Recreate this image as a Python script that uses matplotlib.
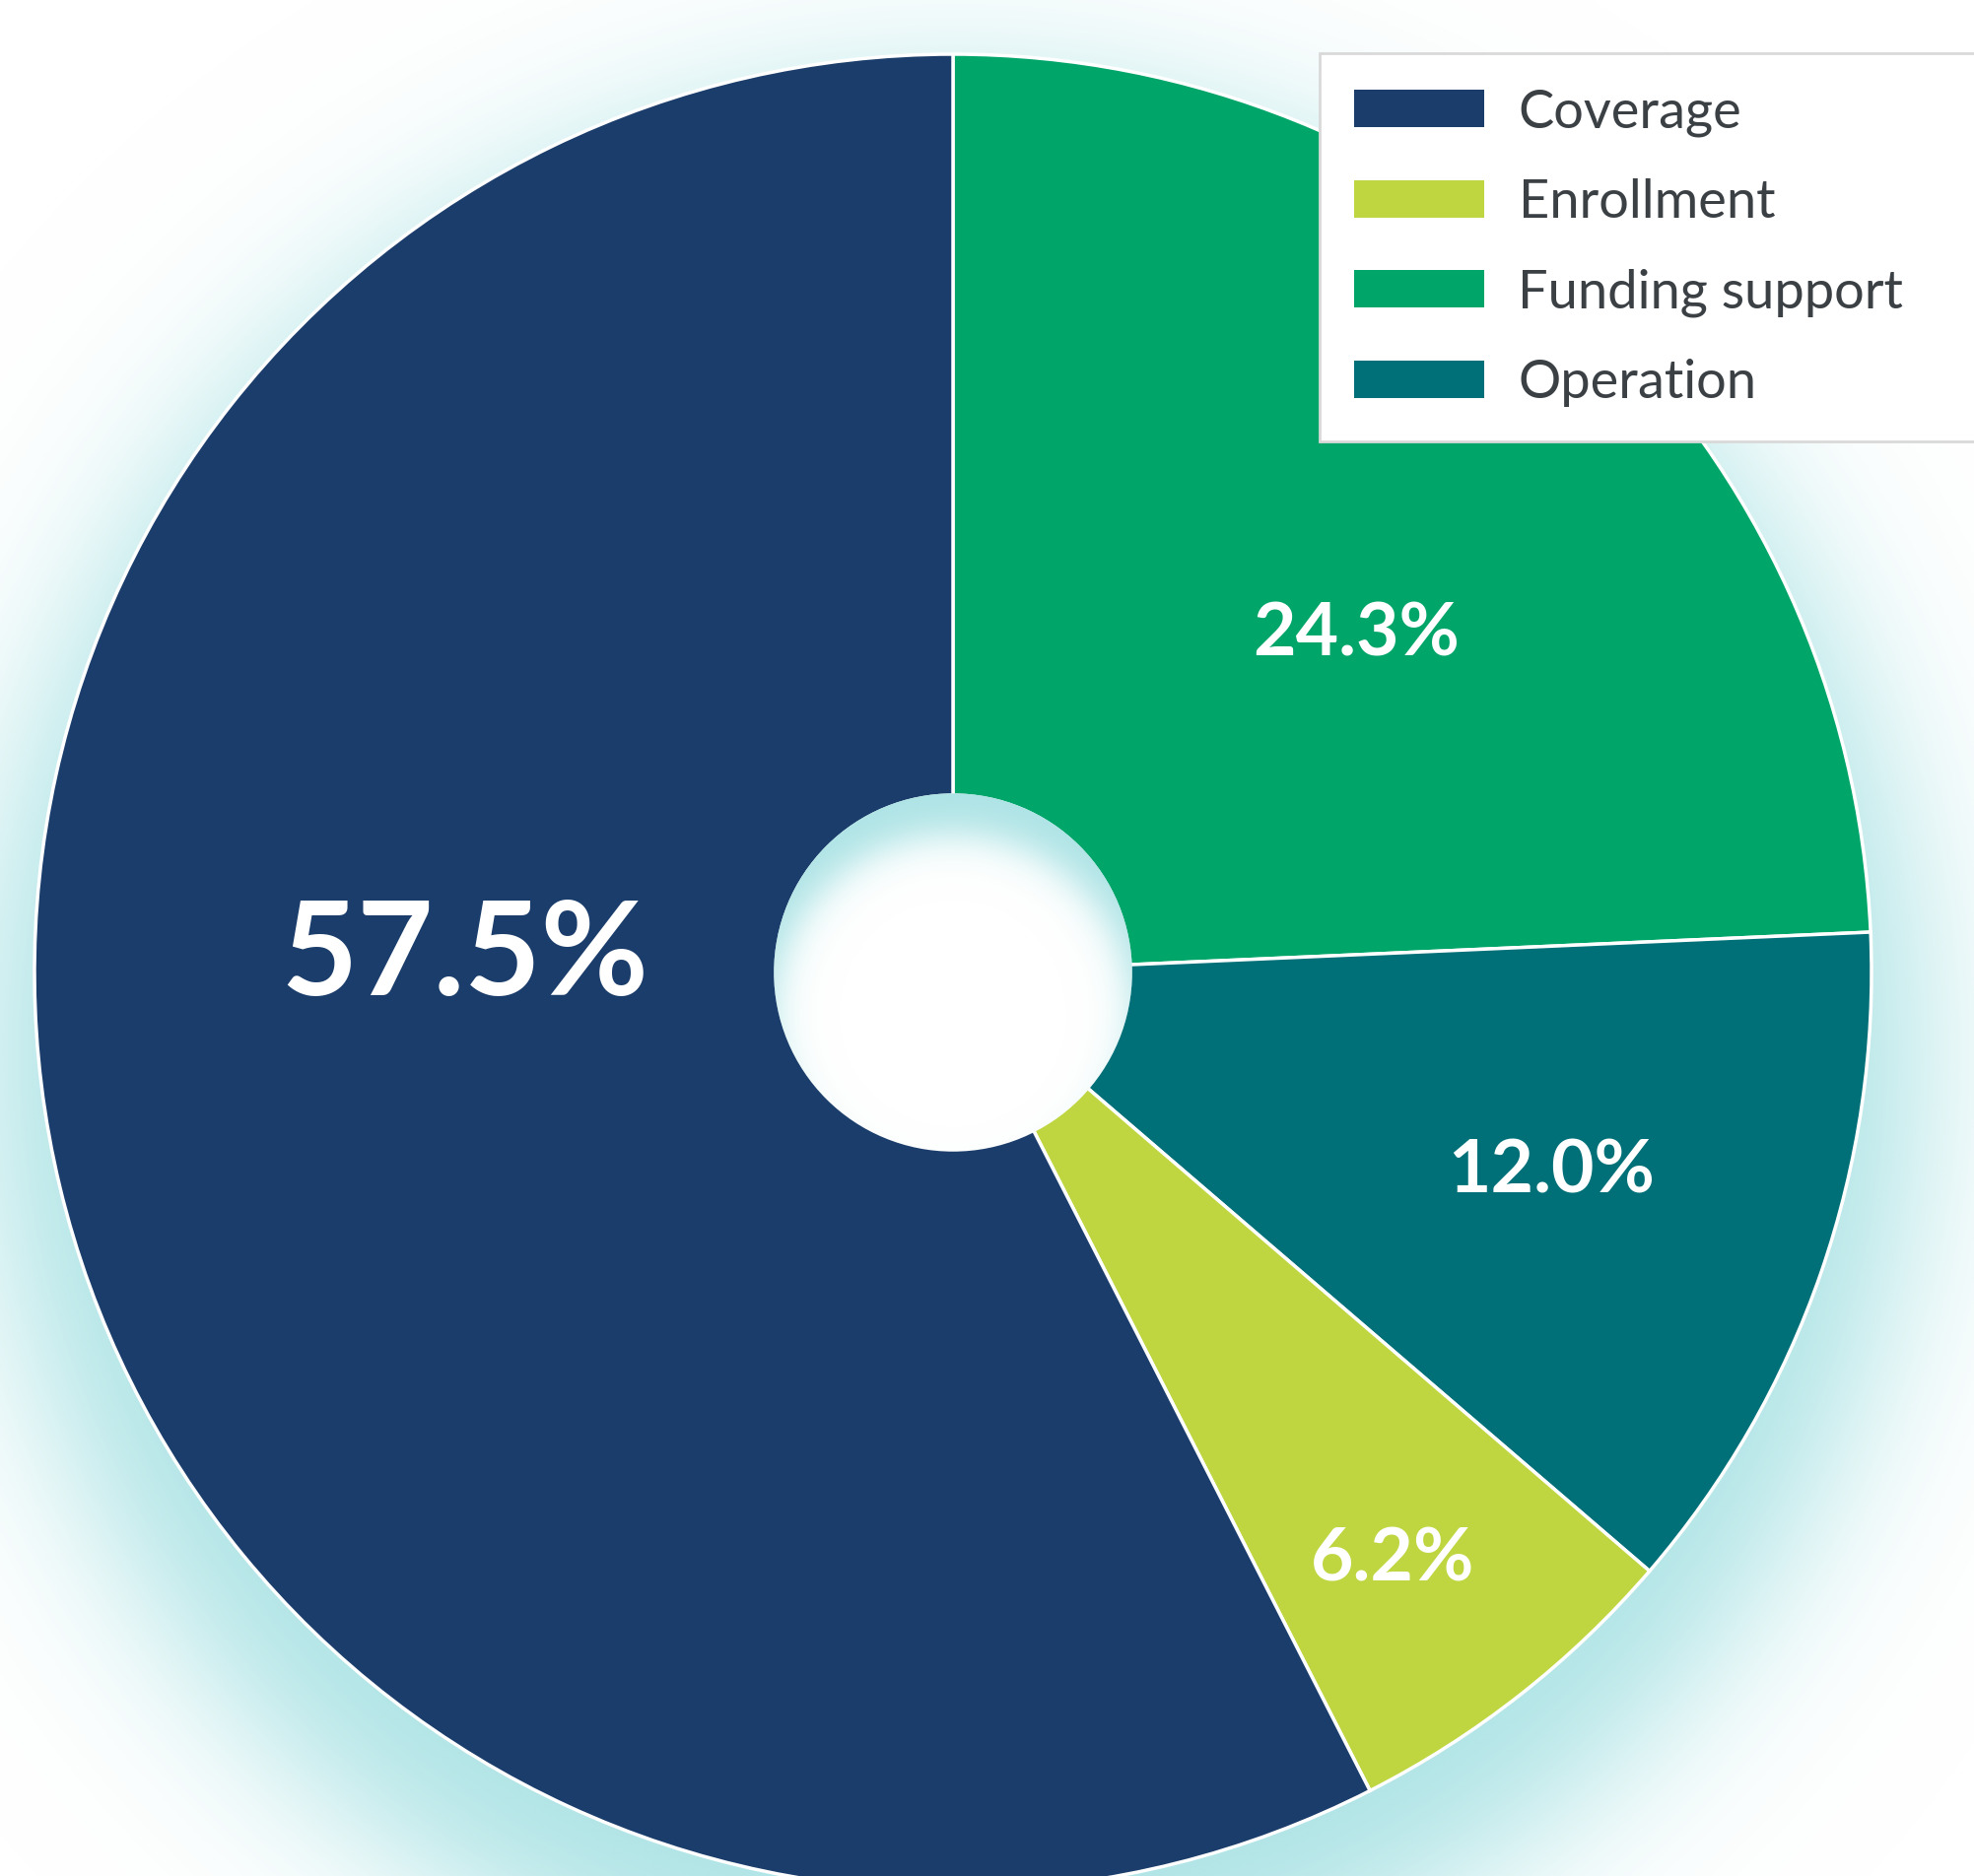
import numpy as np
import matplotlib
matplotlib.use('Agg')
import matplotlib.pyplot as plt
from matplotlib.patches import Patch, Circle
from matplotlib.colors import to_rgb

# data (legend order)
categories = ['Coverage', 'Enrollment', 'Funding support', 'Operation']
shares = [57.5, 6.2, 24.3, 12.0]
colors = ['#1b3d6b', '#bfd641', '#00a56a', '#007078']
# slices drawn clockwise from 12 o'clock
pie_order = [2, 3, 1, 0]

# where each percentage sits (data units, pie radius = 1)
label_xy = {'Coverage': (-0.532, 0.016), 'Enrollment': (0.479, -0.639),
            'Funding support': (0.439, 0.368), 'Operation': (0.651, -0.217)}
label_size = {'Coverage': 96, 'Enrollment': 54, 'Funding support': 54, 'Operation': 54}

W, H = 2003, 1904
cx, cy, R = 967, 987, 932
xlim = (-cx / R, (W - cx) / R)
ylim = ((cy - H) / R, cy / R)

fig = plt.figure(figsize=(W / 100, H / 100), dpi=100)
ax = fig.add_axes([0, 0, 1, 1])


def smoothstep(z):
    return 1.0 / (1.0 + np.exp(-1.702 * z))


# soft teal glow behind the pie, shifted down
nx, ny = 900, 860
X, Y = np.meshgrid(np.linspace(*xlim, nx), np.linspace(*ylim, ny))
glow = np.zeros((ny, nx, 4))
glow[..., :3] = to_rgb('#ace3e5')
glow[..., 3] = smoothstep(-(np.hypot(X, Y + 0.088) - 1.05) / 0.09)
ax.imshow(glow, extent=(*xlim, *ylim), origin='lower', zorder=0,
          interpolation='bilinear')

wedges, _ = ax.pie([shares[i] for i in pie_order],
                   colors=[colors[i] for i in pie_order],
                   startangle=90, counterclock=False, radius=1,
                   wedgeprops=dict(edgecolor='white', linewidth=2.5, zorder=2))

# hole with an inner shadow along its top
hole_r = 0.195
hole = Circle((0, 0), hole_r, facecolor='white', edgecolor='none', zorder=3)
ax.add_patch(hole)
hx = np.linspace(-hole_r, hole_r, 300)
HX, HY = np.meshgrid(hx, hx)
inner = np.zeros((300, 300, 4))
inner[..., :3] = to_rgb('#ace3e5')
inner[..., 3] = smoothstep((np.hypot(HX, HY + 0.045) - 0.195) / 0.022)
im = ax.imshow(inner, extent=(-hole_r, hole_r, -hole_r, hole_r), origin='lower',
               zorder=4, interpolation='bilinear')
im.set_clip_path(hole)

for name, val in zip(categories, shares):
    x, y = label_xy[name]
    ax.text(x, y, '{:.1f}%'.format(val), color='white', fontsize=label_size[name],
            fontweight='bold', family='Lato', ha='center', va='center', zorder=5)

ax.set_xlim(*xlim)
ax.set_ylim(*ylim)
ax.set_aspect('equal')
ax.axis('off')

handles = [Patch(facecolor=c, edgecolor='none', label=l) for l, c in zip(categories, colors)]
leg = ax.legend(handles=handles, loc='upper left', mode='expand',
                bbox_to_anchor=(1339 / W, 1 - 54 / H, (2030 - 1339) / W, 0.0),
                bbox_transform=fig.transFigure,
                prop={'family': 'Lato', 'size': 39}, labelcolor='#3b4045',
                frameon=True, fancybox=False, framealpha=1, edgecolor='#d9d9d9',
                borderpad=0.65, labelspacing=0.78, handlelength=2.44,
                handleheight=0.70, handletextpad=0.63, borderaxespad=0)
leg.get_frame().set_linewidth(2)
leg.set_zorder(10)

fig.savefig('out.png', dpi=100, facecolor='white')
